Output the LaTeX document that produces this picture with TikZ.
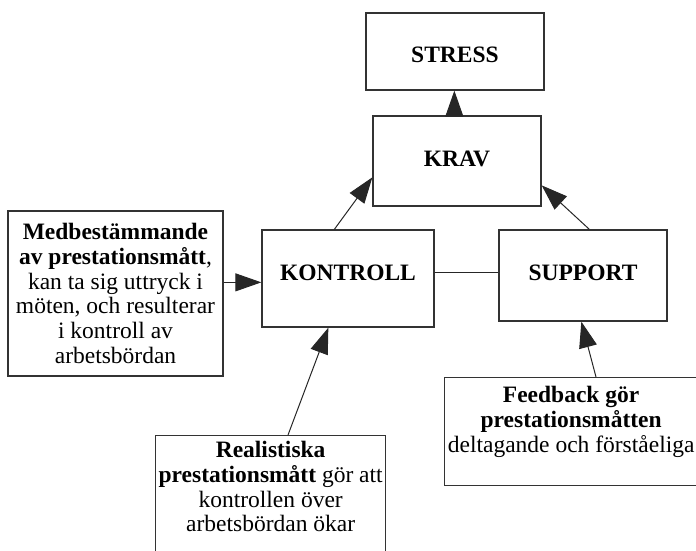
\documentclass[tikz,border=0pt]{standalone}
\usepackage{fontspec}
\setmainfont{Liberation Serif}
\usetikzlibrary{arrows.meta,calc}
\begin{document}
\begin{tikzpicture}[x=1pt,y=-1pt,
  box/.style={draw=black!80, line width=1.3pt, inner sep=0pt, align=center,
    font=\fontsize{23.5}{24.7}\selectfont},
  head/.style={box, font=\fontsize{23.5}{24.7}\selectfont\bfseries},
  arr/.style={draw=black!85, line width=1pt, -{Triangle[length=26pt,width=18pt]}},
  link/.style={draw=black!85, line width=1pt}
]
\useasboundingbox (0,0) rectangle (696,551);

\node[head, minimum width=178pt, minimum height=77pt, text height=22pt] (stress) at (455,51.5) {STRESS};
\node[head, minimum width=168pt, minimum height=90pt, text depth=4pt] (krav) at (457,161) {KRAV};
\node[head, minimum width=172pt, minimum height=97pt, text depth=11pt] (kontroll) at (348,278.5) {KONTROLL};
\node[head, minimum width=168pt, minimum height=91pt, text depth=5pt] (support) at (583,275.5) {SUPPORT};

\node[box, minimum width=215pt, minimum height=165pt] (med) at (115.5,293.5)
  {\textbf{Medbestämmande}\\ \textbf{av prestationsmått},\\ kan ta sig uttryck i\\ möten, och resulterar\\ i kontroll av\\ arbetsbördan};

\node[box, anchor=north west, minimum width=230pt] (real) at (155,435)
  {\rule{0pt}{22pt}\textbf{Realistiska}\\ \textbf{prestationsmått} gör att\\ kontrollen över\\ arbetsbördan ökar\rule[-30pt]{0pt}{30pt}};

\node[box, anchor=north west, minimum width=253pt] (feed) at (444,377)
  {\rule{0pt}{25pt}\textbf{Feedback gör}\\ \textbf{prestationsmåtten}\\ deltagande och förståeliga\rule[-33.6pt]{0pt}{33.6pt}};

\draw[arr] ($(krav.north west)+(82,0)$) -- ($(stress.south west)+(89,0)$);
\draw[arr] ($(kontroll.north west)+(73,0)$) -- ($(krav.north west)+(0,62)$);
\draw[arr] ($(support.north west)+(91,0)$) -- ($(krav.north east)+(0,70)$);
\draw[link] ($(kontroll.north east)+(0,43)$) -- ($(support.north west)+(0,43)$);
\draw[arr] ($(med.north east)+(0,72)$) -- ($(kontroll.north west)+(0,53)$);
\draw[arr] ($(real.north west)+(133,0)$) -- ($(kontroll.south west)+(67,0)$);
\draw[arr] ($(feed.north west)+(152,0)$) -- ($(support.south west)+(83,0)$);
\end{tikzpicture}
\end{document}
